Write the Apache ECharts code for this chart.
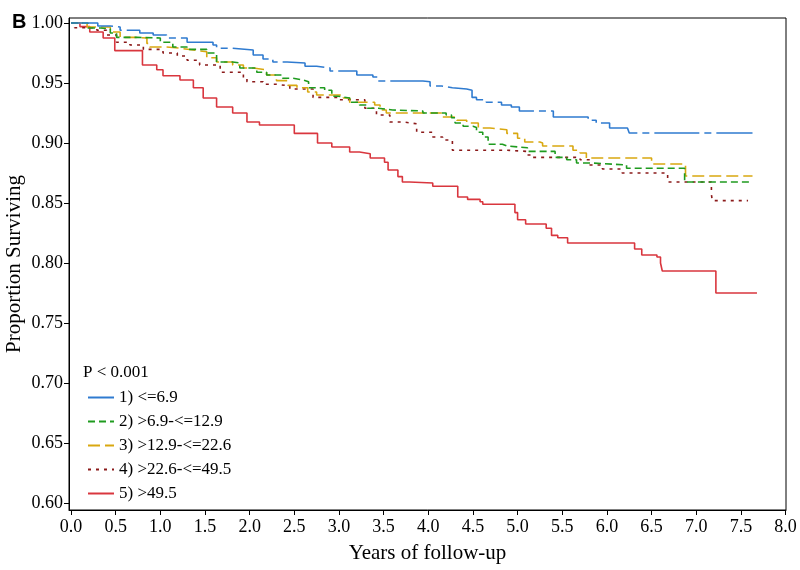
<!DOCTYPE html>
<html>
<head>
<meta charset="utf-8">
<script src="https://cdn.jsdelivr.net/npm/echarts@6/dist/echarts.min.js"></script>
<style>html,body{margin:0;padding:0;background:#fff}#c{width:800px;height:570px}</style>
</head>
<body>
<div id="c"></div>
<script>
var seriesNames = ['1) <=6.9', '2) >6.9-<=12.9', '3) >12.9-<=22.6', '4) >22.6-<=49.5', '5) >49.5'];
var xTicks = [0, 0.5, 1, 1.5, 2, 2.5, 3, 3.5, 4, 4.5, 5, 5.5, 6, 6.5, 7, 7.5, 8];
var yTicks = [0.60, 0.65, 0.70, 0.75, 0.80, 0.85, 0.90, 0.95, 1.00];
var pText = 'P < 0.001';

var s1 = [[0,1.0],[0.3,0.9975],[0.44,0.9967],[0.55,0.994],[0.77,0.9917],[0.92,0.99],[1.07,0.9875],[1.30,0.984],[1.59,0.9817],[1.63,0.979],[1.81,0.9775],[2.04,0.9733],[2.15,0.970],[2.26,0.9675],[2.42,0.9667],[2.62,0.964],[2.75,0.9625],[2.90,0.960],[3.2,0.9567],[3.38,0.955],[3.44,0.9517],[3.94,0.951],[4.02,0.9475],[4.15,0.946],[4.27,0.945],[4.43,0.944],[4.49,0.938],[4.54,0.936],[4.65,0.934],[4.82,0.9317],[4.93,0.930],[5.02,0.9267],[5.40,0.9217],[5.79,0.919],[5.88,0.9167],[6.03,0.9125],[6.23,0.911],[6.25,0.9083],[7.63,0.9083]];
var s2 = [[0,1],[0.19,0.9958],[0.33,0.995],[0.44,0.9917],[0.51,0.988],[0.74,0.9875],[1.0,0.984],[1.14,0.980],[1.30,0.978],[1.52,0.975],[1.63,0.9675],[1.81,0.9667],[1.89,0.9625],[2.08,0.959],[2.19,0.9567],[2.37,0.954],[2.48,0.9525],[2.60,0.951],[2.66,0.946],[2.84,0.944],[2.92,0.939],[2.99,0.9375],[3.12,0.934],[3.23,0.9317],[3.32,0.929],[3.44,0.9275],[3.60,0.9267],[3.94,0.925],[4.2,0.9233],[4.26,0.921],[4.30,0.9167],[4.39,0.914],[4.50,0.913],[4.54,0.909],[4.61,0.905],[4.67,0.899],[4.83,0.8975],[4.88,0.896],[5.11,0.893],[5.42,0.888],[5.55,0.886],[5.66,0.8833],[5.84,0.8817],[6.22,0.879],[6.87,0.8675],[7.62,0.8675]];
var s3 = [[0,1],[0.18,0.9967],[0.44,0.9925],[0.55,0.988],[0.74,0.9875],[0.85,0.983],[0.88,0.980],[1.07,0.979],[1.22,0.9775],[1.37,0.976],[1.52,0.971],[1.63,0.9675],[1.81,0.965],[1.93,0.9625],[2.04,0.961],[2.19,0.9567],[2.3,0.952],[2.43,0.948],[2.53,0.946],[2.65,0.9425],[2.75,0.940],[3.05,0.9375],[3.12,0.934],[3.40,0.9317],[3.46,0.9275],[3.53,0.925],[4.16,0.9217],[4.32,0.919],[4.43,0.9167],[4.56,0.9125],[4.69,0.911],[4.88,0.908],[5.0,0.904],[5.08,0.9008],[5.25,0.900],[5.28,0.8975],[5.62,0.894],[5.70,0.8917],[5.77,0.8875],[6.50,0.8825],[6.88,0.8725],[7.63,0.8725]];
var s4 = [[0,1],[0.04,0.996],[0.29,0.994],[0.40,0.990],[0.51,0.984],[0.66,0.9817],[0.81,0.978],[1.03,0.975],[1.19,0.9725],[1.30,0.969],[1.44,0.965],[1.67,0.959],[1.93,0.954],[1.97,0.951],[2.15,0.949],[2.30,0.9475],[2.45,0.945],[2.71,0.938],[3.01,0.936],[3.29,0.929],[3.42,0.9233],[3.57,0.9175],[3.72,0.916],[3.87,0.909],[4.05,0.905],[4.16,0.9025],[4.27,0.894],[4.88,0.893],[5.11,0.890],[5.17,0.888],[5.70,0.886],[5.81,0.8817],[5.95,0.8783],[6.17,0.875],[6.68,0.8675],[7.17,0.857],[7.18,0.852],[7.58,0.852]];
var s5 = [[0,1],[0.1,0.997],[0.21,0.9925],[0.36,0.9875],[0.49,0.977],[0.8,0.965],[0.96,0.961],[1.03,0.956],[1.22,0.9525],[1.37,0.946],[1.48,0.9375],[1.63,0.930],[1.81,0.925],[1.97,0.9175],[2.11,0.915],[2.50,0.908],[2.76,0.900],[2.92,0.8967],[3.12,0.8925],[3.23,0.891],[3.35,0.8875],[3.51,0.884],[3.55,0.8775],[3.66,0.872],[3.71,0.8675],[3.79,0.8667],[4.05,0.864],[4.33,0.855],[4.44,0.853],[4.58,0.851],[4.61,0.849],[4.97,0.842],[5.0,0.836],[5.09,0.8325],[5.32,0.829],[5.38,0.823],[5.45,0.821],[5.56,0.8167],[6.31,0.8117],[6.39,0.8067],[6.56,0.805],[6.60,0.800],[6.62,0.7933],[7.22,0.775],[7.68,0.775]];

var allData = [s1, s2, s3, s4, s5];
var colors = ['#2f7bd0', '#1f9b1f', '#d9a810', '#8b1a1a', '#d9363e'];
var dashes = [[45,5,7,5], [7,4], [12,5], [3,5], 'solid'];

var serif = 'Liberation Serif';
var chart = echarts.init(document.getElementById('c'), null, {renderer: 'canvas'});
var series = allData.map(function (d, i) {
  return {
    name: seriesNames[i],
    type: 'line',
    step: 'end',
    data: d,
    symbol: 'none',
    showSymbol: false,
    color: colors[i],
    lineStyle: {color: colors[i], width: 1.6, type: dashes[i]},
    z: 10 - i
  };
});

chart.setOption({
  animation: false,
  backgroundColor: '#fff',
  grid: {left: 69, right: 14, top: 18, bottom: 60, containLabel: false, outerBoundsMode: 'none',
    show: true, borderColor: '#000', borderWidth: 1, backgroundColor: 'transparent'},
  xAxis: {
    type: 'value', min: -0.0224, max: 8.005,
    name: 'Years of follow-up', nameLocation: 'middle', nameGap: 33,
    nameTextStyle: {fontFamily: serif, fontSize: 21, color: '#000'},
    axisLine: {show: true, onZero: false, lineStyle: {color: '#000', width: 1}},
    axisTick: {show: true, length: 5, lineStyle: {color: '#000'}, customValues: xTicks},
    axisLabel: {fontFamily: serif, fontSize: 18, color: '#000', margin: 8, customValues: xTicks,
      formatter: function (v) { return v.toFixed(1); }},
    splitLine: {show: false}
  },
  yAxis: {
    type: 'value', min: 0.59417, max: 1.00417,
    name: 'Proportion Surviving', nameLocation: 'middle', nameGap: 44, nameMoveOverlap: false,
    nameTextStyle: {fontFamily: serif, fontSize: 21, color: '#000'},
    axisLine: {show: true, onZero: false, lineStyle: {color: '#000', width: 1}},
    axisTick: {show: true, length: 5, lineStyle: {color: '#000'}, customValues: yTicks},
    axisLabel: {fontFamily: serif, fontSize: 18, color: '#000', margin: 6, customValues: yTicks,
      formatter: function (v) { return v.toFixed(2); }},
    splitLine: {show: false}
  },
  legend: {
    orient: 'vertical', left: 82, top: 384,
    itemWidth: 26, itemHeight: 14, itemGap: 7,
    itemStyle: {opacity: 0},
    textStyle: {fontFamily: serif, fontSize: 17, color: '#000'},
    data: seriesNames
  },
  graphic: [
    {type: 'text', left: 83, top: 364, style: {text: pText, font: '17px "Liberation Serif"', fill: '#000'}},
    {type: 'text', left: 12, top: 12, style: {text: 'B', font: 'bold 20px "Liberation Sans"', fill: '#000'}}
  ],
  series: series
});
</script>
</body>
</html>
